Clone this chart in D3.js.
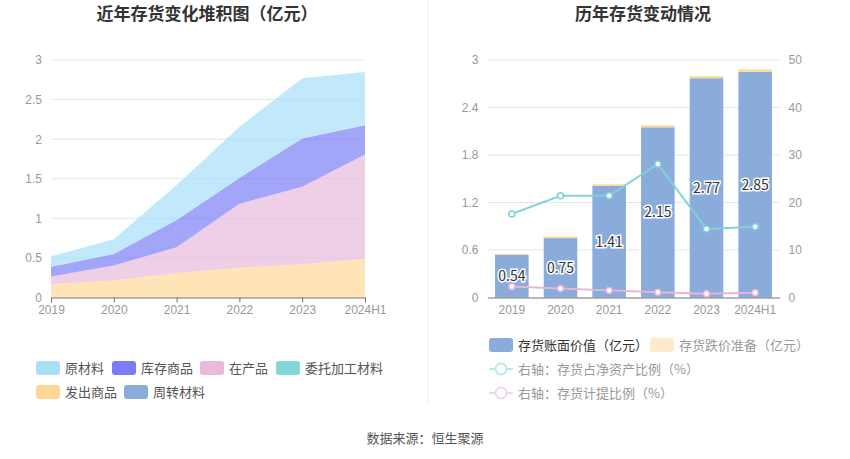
<!DOCTYPE html>
<html lang="zh">
<head>
<meta charset="UTF-8">
<title>存货</title>
<script src="https://d3js.org/d3.v7.min.js"></script>
<style>
  body { margin: 0; background: #fff; }
  svg { font-family: "Noto Sans CJK SC", "Noto Sans", sans-serif; }
  .tick text { fill: #999; font-size: 12px; }
</style>
</head>
<body>
<svg width="850" height="459"></svg>
<script>
// categories
const years = ["2019", "2020", "2021", "2022", "2023", "2024H1"];

// left chart: inventory components (亿元)
const yuanCaiLiao = [0.13, 0.185, 0.44, 0.645, 0.76, 0.675];    // 原材料
const kuCunShangPin = [0.125, 0.145, 0.345, 0.325, 0.61, 0.37]; // 库存商品
const zaiChanPin = [0.095, 0.19, 0.325, 0.81, 0.98, 1.315];     // 在产品
const weiTuoJiaGong = [0, 0, 0, 0, 0, 0];                        // 委托加工材料
const faChuShangPin = [0.17, 0.215, 0.31, 0.375, 0.42, 0.49];   // 发出商品
const zhouZhuanCaiLiao = [0, 0, 0, 0, 0, 0];                     // 周转材料

// right chart
const bookValue = [0.54, 0.75, 1.41, 2.15, 2.77, 2.85];          // 存货账面价值
const impairment = [0.012, 0.02, 0.02, 0.025, 0.025, 0.03];     // 存货跌价准备
const ratioNetAssets = [17.6, 21.4, 21.4, 28.1, 14.4, 14.9];    // 存货占净资产比例
const provisionRatio = [2.3, 1.9, 1.5, 1.1, 0.8, 1.0];          // 存货计提比例

const leftTicks = [0, 0.5, 1, 1.5, 2, 2.5, 3];
const rightTicks = [0, 0.6, 1.2, 1.8, 2.4, 3];
const pctTicks = [0, 10, 20, 30, 40, 50];

const svg = d3.select("svg");

// titles & divider
svg.append("text").attr("x", 207).attr("y", 20).attr("text-anchor", "middle")
  .attr("font-size", 17).attr("font-weight", "bold").attr("fill", "#333")
  .text("近年存货变化堆积图（亿元）");
svg.append("text").attr("x", 643).attr("y", 20).attr("text-anchor", "middle")
  .attr("font-size", 17).attr("font-weight", "bold").attr("fill", "#333")
  .text("历年存货变动情况");
svg.append("line").attr("x1", 428).attr("x2", 428).attr("y1", 0).attr("y2", 405)
  .attr("stroke", "#eee");
svg.append("text").attr("x", 425).attr("y", 443).attr("text-anchor", "middle")
  .attr("font-size", 13).attr("fill", "#555").text("数据来源：恒生聚源");

// ---------- left: stacked area ----------
const x1 = d3.scalePoint().domain(years).range([51, 365]);
const y1 = d3.scaleLinear().domain([0, 3]).range([297.5, 60]);

const g1 = svg.append("g");
g1.append("g").selectAll("line").data(leftTicks.slice(1)).join("line")
  .attr("x1", 51).attr("x2", 365).attr("y1", d => y1(d)).attr("y2", d => y1(d))
  .attr("stroke", "#e0e6f1");

// bottom-up stacking order as drawn
const layers = [
  { name: "周转材料", vals: zhouZhuanCaiLiao, color: "#8aacdb" },
  { name: "发出商品", vals: faChuShangPin, color: "#ffd899" },
  { name: "委托加工材料", vals: weiTuoJiaGong, color: "#85d6d8" },
  { name: "在产品", vals: zaiChanPin, color: "#e8bbdb" },
  { name: "库存商品", vals: kuCunShangPin, color: "#7a7ff5" },
  { name: "原材料", vals: yuanCaiLiao, color: "#a8e0fa" }
];
const table = years.map((yr, i) => {
  const row = { year: yr };
  layers.forEach(l => row[l.name] = l.vals[i]);
  return row;
});
const stacked = d3.stack().keys(layers.map(l => l.name))(table);
const area = d3.area()
  .x(d => x1(d.data.year))
  .y0(d => y1(d[0]))
  .y1(d => y1(d[1]));
g1.selectAll("path.area").data(stacked).join("path")
  .attr("class", "area")
  .attr("d", area)
  .attr("fill", (d, i) => layers[i].color)
  .attr("fill-opacity", 0.7);

g1.append("g").attr("transform", "translate(51,0)")
  .call(d3.axisLeft(y1).tickValues(leftTicks).tickSize(0).tickPadding(9).tickFormat(d3.format("")))
  .call(g => g.select(".domain").remove());
g1.append("g").attr("transform", "translate(0,297.5)")
  .call(d3.axisBottom(x1).tickSize(5).tickPadding(3))
  .call(g => g.select(".domain").attr("stroke", "#6e7079"))
  .call(g => g.selectAll(".tick line").attr("stroke", "#6e7079"));

// left legend
const legL = [
  { name: "原材料", color: "#a8e0fa", x: 36, y: 368 },
  { name: "库存商品", color: "#7a7ff5", x: 112, y: 368 },
  { name: "在产品", color: "#e8bbdb", x: 200, y: 368 },
  { name: "委托加工材料", color: "#85d6d8", x: 276, y: 368 },
  { name: "发出商品", color: "#ffd899", x: 36, y: 392 },
  { name: "周转材料", color: "#8aacdb", x: 124, y: 392 }
];
const li = svg.append("g").selectAll("g").data(legL).join("g")
  .attr("transform", d => `translate(${d.x},${d.y})`);
li.append("rect").attr("x", 0).attr("y", -7).attr("width", 24).attr("height", 14)
  .attr("rx", 3).attr("fill", d => d.color);
li.append("text").attr("x", 29).attr("dy", "0.35em").attr("font-size", 13)
  .attr("fill", "#555").text(d => d.name);

// ---------- right: bars + lines ----------
const x2 = d3.scaleBand().domain(years).range([487.5, 779.5]).paddingInner(0.31).paddingOuter(0.155);
const y2 = d3.scaleLinear().domain([0, 3]).range([297.5, 60]);
const y3 = d3.scaleLinear().domain([0, 50]).range([297.5, 60]);
const cx = d => x2(d) + x2.bandwidth() / 2;

const g2 = svg.append("g");
g2.append("g").selectAll("line").data(rightTicks.slice(1)).join("line")
  .attr("x1", 487.5).attr("x2", 779.5).attr("y1", d => y2(d)).attr("y2", d => y2(d))
  .attr("stroke", "#e0e6f1");

g2.selectAll("rect.bv").data(years).join("rect")
  .attr("class", "bv")
  .attr("x", d => x2(d)).attr("width", x2.bandwidth())
  .attr("y", (d, i) => y2(bookValue[i]))
  .attr("height", (d, i) => y2(0) - y2(bookValue[i]))
  .attr("fill", "#8aacdb");
g2.selectAll("rect.imp").data(years).join("rect")
  .attr("class", "imp")
  .attr("x", d => x2(d)).attr("width", x2.bandwidth())
  .attr("y", (d, i) => y2(bookValue[i] + impairment[i]))
  .attr("height", (d, i) => y2(bookValue[i]) - y2(bookValue[i] + impairment[i]))
  .attr("fill", "#ffd899");

g2.append("g").attr("transform", "translate(487.5,0)")
  .call(d3.axisLeft(y2).tickValues(rightTicks).tickSize(0).tickPadding(9).tickFormat(d3.format("")))
  .call(g => g.select(".domain").remove());
g2.append("g").attr("transform", "translate(779.5,0)")
  .call(d3.axisRight(y3).tickValues(pctTicks).tickSize(0).tickPadding(9))
  .call(g => g.select(".domain").remove());
g2.append("g").attr("transform", "translate(0,297.5)")
  .call(d3.axisBottom(x2).tickSize(0).tickPadding(8))
  .call(g => g.select(".domain").attr("stroke", "#6e7079"));

const lineSeries = [
  { vals: ratioNetAssets, color: "#7fd3d6" },
  { vals: provisionRatio, color: "#e8b4d9" }
];
lineSeries.forEach(s => {
  g2.append("path").datum(s.vals)
    .attr("d", d3.line().x((d, i) => cx(years[i])).y(d => y3(d)))
    .attr("fill", "none").attr("stroke", s.color).attr("stroke-width", 2);
  g2.selectAll(null).data(s.vals).join("circle")
    .attr("cx", (d, i) => cx(years[i])).attr("cy", d => y3(d)).attr("r", 3)
    .attr("fill", "#fff").attr("stroke", s.color).attr("stroke-width", 1.5);
});

g2.selectAll("text.lbl").data(bookValue).join("text")
  .attr("class", "lbl")
  .attr("x", (d, i) => cx(years[i])).attr("y", d => y2(d / 2))
  .attr("dy", "0.35em").attr("text-anchor", "middle")
  .attr("font-size", 14).attr("fill", "#333")
  .attr("stroke", "#fff").attr("stroke-width", 3).attr("paint-order", "stroke")
  .text(d => d);

// right legend
const leg2 = svg.append("g");
const boxItems = [
  { name: "存货账面价值（亿元）", color: "#8aacdb", x: 489, y: 345, tc: "#333" },
  { name: "存货跌价准备（亿元）", color: "#ffeacc", x: 650, y: 345, tc: "#999" }
];
boxItems.forEach(d => {
  leg2.append("rect").attr("x", d.x).attr("y", d.y - 7).attr("width", 24).attr("height", 14)
    .attr("rx", 3).attr("fill", d.color);
  leg2.append("text").attr("x", d.x + 29).attr("y", d.y).attr("dy", "0.35em")
    .attr("font-size", 13).attr("fill", d.tc).text(d.name);
});
const lineItems = [
  { name: "右轴：存货占净资产比例（%）", color: "#b9e8ea", y: 369 },
  { name: "右轴：存货计提比例（%）", color: "#f3d4ea", y: 393 }
];
lineItems.forEach(d => {
  leg2.append("line").attr("x1", 489).attr("x2", 513).attr("y1", d.y).attr("y2", d.y)
    .attr("stroke", d.color).attr("stroke-width", 2);
  leg2.append("circle").attr("cx", 501).attr("cy", d.y).attr("r", 5.5)
    .attr("fill", "#fff").attr("stroke", d.color).attr("stroke-width", 2);
  leg2.append("text").attr("x", 518).attr("y", d.y).attr("dy", "0.35em")
    .attr("font-size", 13).attr("fill", "#999").text(d.name);
});
</script>
</body>
</html>
